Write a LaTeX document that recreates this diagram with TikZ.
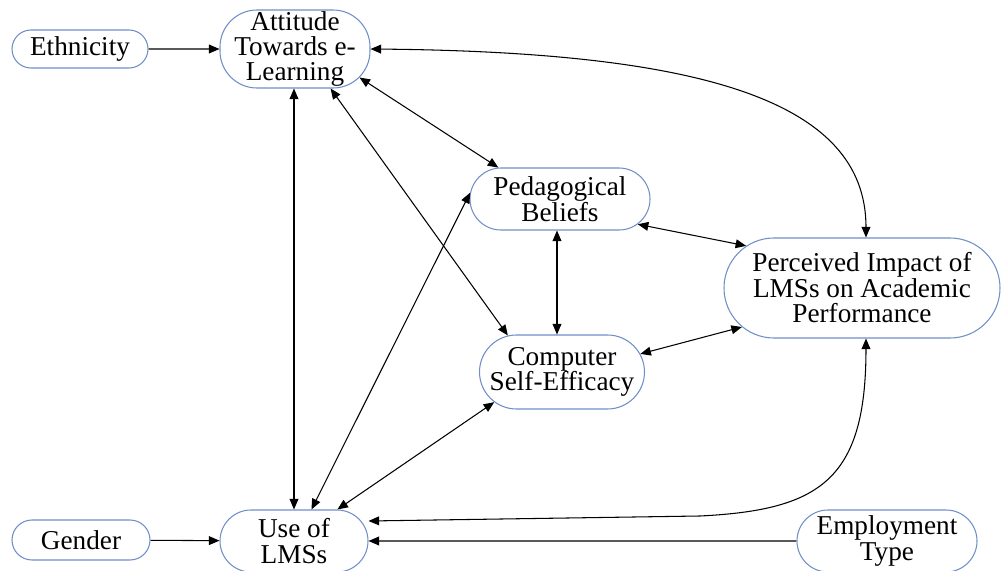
\documentclass[tikz,border=0pt]{standalone}
\usepackage{fontspec}
\setmainfont{Liberation Serif}
\usetikzlibrary{shapes.misc,arrows.meta}

\definecolor{boxblue}{RGB}{112,142,200}

\begin{document}
\begin{tikzpicture}[x = 0.02cm, y = -0.02cm,
    var/.style = {draw = boxblue, line width = 0.6pt, rounded rectangle, align = center,
                  inner sep = 0pt, font = \fontsize{15.5}{14.5}\selectfont},
    varbox/.style = {draw = boxblue, line width = 0.6pt, rectangle, rounded corners = 0.74cm, align = center,
                  inner sep = 0pt, font = \fontsize{15.5}{14.5}\selectfont},
    link/.style = {line width = 0.6pt, {Triangle[length=6pt,width=5pt]}-{Triangle[length=6pt,width=5pt]}},
    onelink/.style = {line width = 0.6pt, -{Triangle[length=6pt,width=5pt]}}]

    \useasboundingbox (0, 0) rectangle (1002, 571);

    % variables
    \node [var, minimum width = 136 * 0.02cm, minimum height = 38 * 0.02cm] (eth) at (80, 49) {Ethnicity};
    \node [varbox, minimum width = 150 * 0.02cm, minimum height = 78 * 0.02cm] (att) at (295, 49) {Attitude\\Towards e-\\Learning};
    \node [var, minimum width = 180 * 0.02cm, minimum height = 62 * 0.02cm] (ped) at (560, 199) {Pedagogical\\Beliefs};
    \node [var, minimum width = 165 * 0.02cm, minimum height = 74 * 0.02cm] (cse) at (562, 372) {Computer\\Self-Efficacy};
    \node [var, minimum width = 276 * 0.02cm, minimum height = 100 * 0.02cm] (perc) at (862, 288) {Perceived Impact of\\LMSs on Academic\\Performance};
    \node [var, minimum width = 138 * 0.02cm, minimum height = 40 * 0.02cm] (gen) at (81, 540) {Gender};
    \node [var, minimum width = 148 * 0.02cm, minimum height = 62 * 0.02cm] (use) at (294, 541) {Use of\\LMSs};
    \node [var, minimum width = 180 * 0.02cm, minimum height = 62 * 0.02cm] (emp) at (887, 541) {Employment\\Type};

    % one-way paths
    \draw [onelink] (eth) -- (att);
    \draw [onelink] (gen) -- (use);
    \draw [onelink] (emp) -- (use);

    % two-way paths
    \draw [link] (att.south -| use.north) -- (use.north);
    \draw [link] (att.-48) -- (cse.146);
    \draw [link] ([shift = {(-11, -11)}] att.south east) -- (ped.153);
    \draw [link] (use.61) -- (ped.176);
    \draw [link] (use.36) -- (cse.-156);
    \draw [link] (ped.south -| 557, 0) -- (cse.north -| 557, 0);
    \draw [link] (ped.-18) -- (perc.160);
    \draw [link] (cse.13) -- (perc.-162);
    \draw [link] (att.east) .. controls (700, 52) and (866, 100) .. (perc.north -| 866, 0);
    \draw [link] (perc.south -| 866, 0) .. controls (866, 480) and (820, 510) .. (700, 516) -- ([yshift = 0.4cm] use.east);

\end{tikzpicture}
\end{document}
